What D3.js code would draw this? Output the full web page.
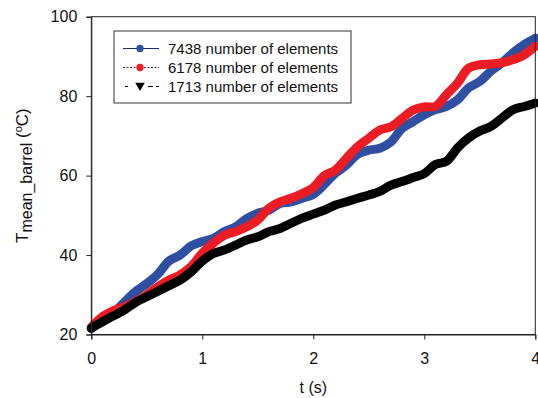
<!DOCTYPE html>
<html>
<head>
<meta charset="utf-8">
<script src="https://cdn.jsdelivr.net/npm/d3@7"></script>
<style>
    body { margin: 0; background: #fff; }
    text { font-family: "Liberation Sans", Arial, sans-serif; fill: #111; }
</style>
</head>
<body>
<div id="visualization"></div>
<script>
// time points (s)
const times = [0, 0.1, 0.2, 0.3, 0.4, 0.5, 0.6, 0.7, 0.8, 0.9,
    1.0, 1.1, 1.2, 1.3, 1.4, 1.5, 1.6, 1.7, 1.8, 1.9,
    2.0, 2.1, 2.2, 2.3, 2.4, 2.5, 2.6, 2.7, 2.8, 2.9,
    3.0, 3.1, 3.2, 3.3, 3.4, 3.5, 3.6, 3.7, 3.8, 3.9, 4.0];

// mean barrel temperature for each mesh
const elements7438 = [21.5, 24, 25.5, 28.2, 30.8, 32.8, 35.2, 38.5, 40, 42.3,
    43.4, 44.2, 45.9, 47.1, 49.2, 50.5, 51.3, 53, 53.4, 54.3,
    55.3, 57.8, 60.6, 62.7, 65.4, 66.4, 66.9, 68.5, 71.9, 73.6,
    75.3, 76.6, 77.4, 79.1, 82.1, 83.7, 86.3, 88.4, 90.9, 93, 94.6];
const elements6178 = [21.8, 24.5, 26, 27, 28.3, 30, 32, 33.7, 35, 37.1,
    40.5, 43, 45, 45.9, 47.1, 48.8, 51.8, 53.4, 54.3, 55.5,
    57, 60, 61.4, 64.4, 67.3, 69.4, 71.5, 72.3, 74.4, 76.5,
    77.3, 77.4, 80.4, 83.3, 87.1, 87.9, 88.1, 88.4, 89.2, 90.4, 92.6];
const elements1713 = [21.6, 23.2, 24.7, 26.2, 28.1, 29.5, 30.9, 32.3, 33.7, 35.8,
    38.5, 40.4, 41.3, 42.5, 43.8, 44.6, 45.9, 46.7, 48, 49.3,
    50.3, 51.3, 52.6, 53.4, 54.3, 55.1, 56, 57.6, 58.5, 59.5,
    60.5, 62.8, 63.6, 67, 69.5, 71.2, 72.4, 74.5, 76.6, 77.4, 78.3];

const legendLabels = ["7438 number of elements", "6178 number of elements", "1713 number of elements"];
const xTicks = [0, 1, 2, 3, 4];
const yTicks = [20, 40, 60, 80, 100];

const width = 538, height = 398;
const margin = {left: 91.3, right: 2.7, top: 16.7, bottom: 63.5};

const svg = d3.select("#visualization").append("svg")
    .attr("width", width)
    .attr("height", height);

const x = d3.scaleLinear().domain([0, 4]).range([margin.left, width - margin.right]);
const y = d3.scaleLinear().domain([20, 100]).range([height - margin.bottom, margin.top]);

// series table, drawn blue first so red and black sit on top
const series = [
    {name: legendLabels[0], values: elements7438, color: "#2f4fa2", dash: null, symbol: d3.symbolCircle},
    {name: legendLabels[1], values: elements6178, color: "#ec1c24", dash: "2,1.5", symbol: d3.symbolCircle},
    {name: legendLabels[2], values: elements1713, color: "#000", dash: "3,18", symbol: d3.symbolTriangle},
];

const line = d3.line()
    .x((d, i) => x(times[i]))
    .y(d => y(d))
    .curve(d3.curveCatmullRom);

const plot = svg.append("g");
plot.selectAll(".series")
    .data(series)
    .enter().append("path")
    .attr("class", "series")
    .attr("d", d => line(d.values))
    .attr("fill", "none")
    .attr("stroke", d => d.color)
    .attr("stroke-width", 9)
    .attr("stroke-linejoin", "round")
    .attr("stroke-linecap", "round");

// frame around the plot
svg.append("rect")
    .attr("x", x(0)).attr("y", y(100))
    .attr("width", x(4) - x(0)).attr("height", y(20) - y(100))
    .attr("fill", "none").attr("stroke", "#222").attr("stroke-width", 1);

const xAxis = svg.append("g")
    .attr("transform", `translate(0,${y(20)})`)
    .call(d3.axisBottom(x).tickValues(xTicks).tickFormat(d3.format("d")).tickSize(5).tickPadding(13));
const yAxis = svg.append("g")
    .attr("transform", `translate(${x(0)},0)`)
    .call(d3.axisLeft(y).tickValues(yTicks).tickSize(5).tickPadding(9));

[xAxis, yAxis].forEach(a => {
    a.select(".domain").attr("stroke", "#222");
    a.selectAll(".tick line").attr("stroke", "#222");
    a.selectAll("text").style("font-size", "16px").style("font-family", "Liberation Sans, Arial, sans-serif").attr("fill", "#111");
});

// axis titles
svg.append("text")
    .attr("x", x(2)).attr("y", 393)
    .attr("text-anchor", "middle")
    .style("font-size", "16px")
    .text("t (s)");

const yLabel = svg.append("text")
    .attr("transform", `translate(28,${(y(20) + y(100)) / 2}) rotate(-90)`)
    .attr("text-anchor", "middle")
    .style("font-size", "17px");
yLabel.append("tspan").text("T");
yLabel.append("tspan").attr("dy", 4).style("font-size", "16px").text("mean_barrel");
yLabel.append("tspan").attr("dy", -4).text(" (");
yLabel.append("tspan").attr("dy", -6).style("font-size", "11px").text("o");
yLabel.append("tspan").attr("dy", 6).text("C)");

// legend
const legend = svg.append("g");
legend.append("rect")
    .attr("x", 114).attr("y", 31)
    .attr("width", 237).attr("height", 72)
    .attr("fill", "#fff").attr("stroke", "#333").attr("stroke-width", 1);

const rows = legend.selectAll(".row")
    .data(series)
    .enter().append("g")
    .attr("class", "row")
    .attr("transform", (d, i) => `translate(0,${48.5 + i * 19})`);

rows.append("line")
    .attr("x1", 123).attr("x2", 159)
    .attr("stroke", d => d.color === "#000" ? "#000" : (d.dash ? "#333" : "#1a2a6a"))
    .attr("stroke-width", 1.2)
    .attr("stroke-dasharray", (d, i) => i === 2 ? "0,2,3,20,3" : d.dash);

rows.append("path")
    .attr("transform", (d, i) => `translate(140,${i === 2 ? -1 : 0}) rotate(${i === 2 ? 180 : 0})`)
    .attr("d", d => d3.symbol().type(d.symbol).size(d.symbol === d3.symbolTriangle ? 40 : 42)())
    .attr("fill", d => d.color);

rows.append("text")
    .attr("x", 168).attr("dy", "0.35em")
    .style("font-size", "15px")
    .text(d => d.name);
</script>
</body>
</html>
